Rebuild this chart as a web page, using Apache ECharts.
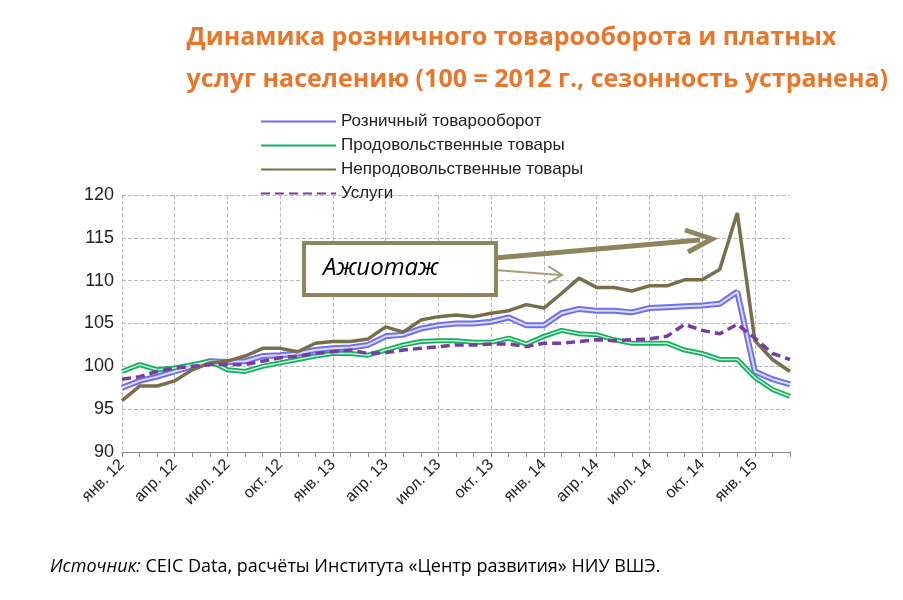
<!DOCTYPE html><html><head><meta charset="utf-8">
<script src="https://cdn.jsdelivr.net/npm/echarts@6/dist/echarts.min.js"></script>
<style>body{margin:0;background:#fff}#c{width:903px;height:600px}</style></head><body><div id="c"></div>
<script>
const monthsRu=['янв.','фев.','мар.','апр.','май.','июн.','июл.','авг.','сен.','окт.','ноя.','дек.'];
const categories=[];for(let y=12;y<=15;y++)for(let m=0;m<12;m++){if(categories.length<39)categories.push(monthsRu[m]+' '+y);}
const retail=[97.5,98.3,98.8,99.4,100,100.6,100.5,100.6,101.2,101.3,101.5,101.9,102.1,102.2,102.5,103.5,103.7,104.4,104.8,105,105,105.2,105.7,104.8,104.8,106.2,106.7,106.5,106.5,106.3,106.8,106.9,107,107.1,107.3,108.7,99.4,98.5,97.9];
const food=[99.4,100.2,99.6,99.8,100.2,100.6,99.6,99.4,100,100.4,100.8,101.2,101.5,101.5,101.3,101.9,102.5,102.9,103,103,102.8,102.8,103.3,102.6,103.5,104.2,103.8,103.7,103.1,102.7,102.7,102.7,101.9,101.5,100.8,100.8,98.7,97.3,96.5];
const nonfood=[96,97.7,97.7,98.3,99.6,100.4,100.6,101.2,102.1,102.1,101.7,102.7,102.9,102.9,103.2,104.6,104,105.4,105.8,106,105.8,106.2,106.5,107.2,106.8,108.5,110.3,109.2,109.2,108.8,109.4,109.4,110.1,110.1,111.3,117.9,103,100.8,99.4];
const services=[98.5,98.8,99.4,99.8,100,100.2,100.2,100.2,100.6,101,101.2,101.5,101.7,101.9,101.5,101.6,101.9,102.1,102.3,102.5,102.5,102.6,102.6,102.3,102.7,102.7,102.9,103.1,103,103.1,103.2,103.5,104.9,104.2,103.8,104.9,103.3,101.5,100.8];
const names=['Розничный товарооборот','Продовольственные товары','Непродовольственные товары','Услуги'];
const ch=echarts.init(document.getElementById('c'));
const ff='Liberation Sans, Arial, sans-serif';
ch.setOption({
 animation:false,
 title:[{text:'Динамика розничного товарооборота и платных\nуслуг населению (100 = 2012 г., сезонность устранена)',right:10,top:12,
  textStyle:{color:'#e8762b',fontSize:25,fontWeight:'bold',fontFamily:'Open Sans, sans-serif',lineHeight:42,align:'right'}},
  {text:'{i|Источник:} CEIC Data, расчёты Института «Центр развития» НИУ ВШЭ.',left:45,top:553,textStyle:{fontSize:18,fontWeight:'normal',color:'#000',fontFamily:'Open Sans, sans-serif',rich:{i:{fontStyle:'italic',fontSize:18,fontFamily:'Open Sans, sans-serif'}}}}],
 legend:{orient:'vertical',left:255,top:108,itemGap:7,itemWidth:75,itemHeight:14,itemStyle:{opacity:0},textStyle:{fontSize:17,color:'#222',fontFamily:ff},data:names},
 grid:{left:122,right:113,top:195,bottom:148},
 xAxis:{type:'category',data:categories,boundaryGap:false,
  axisLine:{lineStyle:{color:'#888'}},axisTick:{show:true,interval:0,lineStyle:{color:'#888'}},
  axisLabel:{interval:2,rotate:45,fontSize:16,color:'#222',fontFamily:ff,margin:10},
  splitLine:{show:true,interval:2,lineStyle:{type:'dashed',color:'#bbb'}}},
 yAxis:{type:'value',min:90,max:120,interval:5,axisLabel:{fontSize:18,color:'#222',fontFamily:ff},
  axisLine:{show:false},splitLine:{lineStyle:{type:'dashed',color:'#bbb'}}},
 series:[
  {name:names[0],type:'line',data:retail,symbol:'none',lineStyle:{width:6,color:'#6f6ff0'},itemStyle:{color:'#6f6ff0'},z:3},
  {name:'_r',type:'line',data:retail,symbol:'none',lineStyle:{width:2,color:'#dcdcff'},z:4},
  {name:names[1],type:'line',data:food,symbol:'none',lineStyle:{width:5,color:'#10b060'},itemStyle:{color:'#10b060'},z:3},
  {name:'_f',type:'line',data:food,symbol:'none',lineStyle:{width:1.5,color:'#c8f0d8'},z:4},
  {name:names[2],type:'line',data:nonfood,symbol:'none',lineStyle:{width:3.5,color:'#7a6e4a'},itemStyle:{color:'#7a6e4a'},z:5},
  {name:names[3],type:'line',data:services,symbol:'none',lineStyle:{width:3.5,type:[9,5],color:'#7a3aa0'},itemStyle:{color:'#7a3aa0'},z:6}
 ],
 graphic:[
  {type:'line',shape:{x1:495,y1:258,x2:700,y2:240},style:{stroke:'#8f8460',lineWidth:5},z:10},
  {type:'polyline',shape:{points:[[685,230],[712,239],[688,252]]},style:{stroke:'#8f8460',lineWidth:5,fill:null},z:10},
  {type:'line',shape:{x1:495,y1:270,x2:560,y2:275},style:{stroke:'#a89c78',lineWidth:2},z:10},
  {type:'polyline',shape:{points:[[548,266],[562,275],[548,283]]},style:{stroke:'#a89c78',lineWidth:2,fill:null},z:10},
  {type:'rect',shape:{x:304,y:243,width:192,height:52},style:{fill:'#fff',stroke:'#8f8460',lineWidth:4},z:11},
  {type:'text',left:323,top:256,style:{text:'Ажиотаж',font:'italic 24px "Open Sans", sans-serif',fill:'#000'},z:12}
 ]
});
</script></body></html>
